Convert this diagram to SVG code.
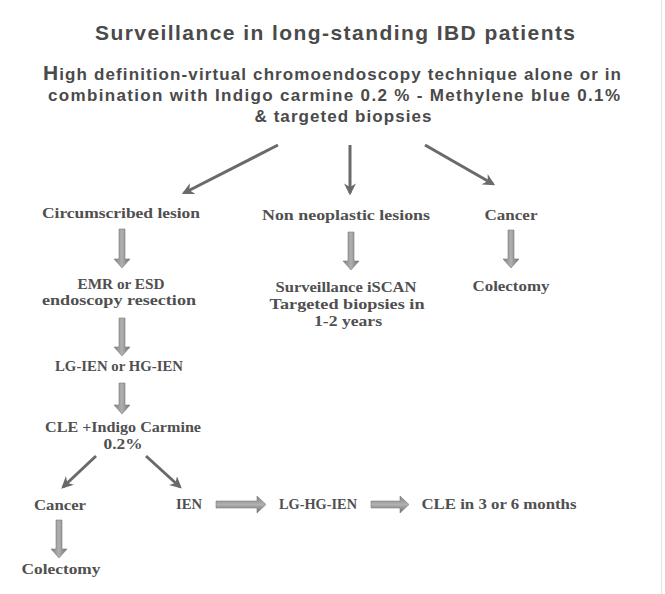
<svg xmlns="http://www.w3.org/2000/svg" width="665" height="594" viewBox="0 0 665 594">
<defs>
<style>
.t{font-family:"Liberation Sans",Arial,sans-serif;font-weight:bold;fill:#4a4a4a;text-anchor:middle}
.n{font-family:"Liberation Serif","Times New Roman",serif;font-weight:bold;font-size:15.5px;fill:#505050;text-anchor:middle}
.thin{stroke:#6a6a6a;stroke-width:3;fill:none;marker-end:url(#ah)}
.blk{fill:url(#gv);stroke:#7e7e7e;stroke-width:0.6}
.blkh{fill:url(#gh);stroke:#7e7e7e;stroke-width:0.6}
</style>
<marker id="ah" viewBox="0 0 10 10" refX="8" refY="5" markerWidth="4" markerHeight="4" orient="auto" markerUnits="strokeWidth">
<path d="M0,0 L10,5 L0,10 L3,5 Z" fill="#6a6a6a"/>
</marker>
<linearGradient id="gv" x1="0" y1="0" x2="1" y2="0">
<stop offset="0" stop-color="#808080"/><stop offset="0.5" stop-color="#b0b0b0"/><stop offset="1" stop-color="#707070"/>
</linearGradient>
<linearGradient id="gh" x1="0" y1="0" x2="0" y2="1">
<stop offset="0" stop-color="#808080"/><stop offset="0.5" stop-color="#b0b0b0"/><stop offset="1" stop-color="#707070"/>
</linearGradient>
</defs>
<rect width="665" height="594" fill="#ffffff"/>
<line x1="661.5" y1="0" x2="661.5" y2="594" stroke="#e2e2e2" stroke-width="1"/>

<g id="title"><text class="t" x="335" y="40" font-size="21" textLength="480" lengthAdjust="spacing">Surveillance in long-standing IBD patients</text></g>
<g id="technique">
<text class="t" x="332" y="80" font-size="17" textLength="578" lengthAdjust="spacing"><tspan font-size="21">H</tspan>igh definition-virtual chromoendoscopy technique alone or in</text>
<text class="t" x="334" y="101" font-size="17" textLength="572" lengthAdjust="spacing">combination with Indigo carmine 0.2 % - Methylene blue 0.1%</text>
<text class="t" x="343" y="122" font-size="17" textLength="177" lengthAdjust="spacing">&amp; targeted biopsies</text>
</g>

<g id="connectors">
<line class="thin" x1="278" y1="145" x2="184" y2="193"/>
<line class="thin" x1="350" y1="145" x2="350" y2="193"/>
<line class="thin" x1="425" y1="145" x2="493" y2="184"/>
<line class="thin" x1="96" y1="456" x2="63" y2="487"/>
<line class="thin" x1="146" y1="456" x2="180" y2="487"/>
<polygon class="blk" points="119,229 125,229 125,259 130,259 122,268 114,259 119,259"/>
<polygon class="blk" points="348,232 354,232 354,261 359,261 351,270 343,261 348,261"/>
<polygon class="blk" points="508,230 514,230 514,259 519,259 511,268 503,259 508,259"/>
<polygon class="blk" points="119,318 125,318 125,347 130,347 122,356 114,347 119,347"/>
<polygon class="blk" points="119,383 125,383 125,405 130,405 122,414 114,405 119,405"/>
<polygon class="blk" points="56,520 62,520 62,549 67,549 59,558 51,549 56,549"/>
<polygon class="blkh" points="216,501 257,501 257,496 266,504.5 257,513 257,508 216,508"/>
<polygon class="blkh" points="371,501 400,501 400,496 409,504.5 400,513 400,508 371,508"/>
</g>

<g id="circumscribed"><text class="n" x="121" y="218" textLength="158" lengthAdjust="spacingAndGlyphs">Circumscribed lesion</text></g>
<g id="nonneoplastic"><text class="n" x="346" y="220" textLength="168" lengthAdjust="spacingAndGlyphs">Non neoplastic lesions</text></g>
<g id="cancer1"><text class="n" x="511" y="220" textLength="53" lengthAdjust="spacingAndGlyphs">Cancer</text></g>
<g id="emr"><text class="n" x="121" y="289" font-size="14" textLength="87" lengthAdjust="spacingAndGlyphs">EMR or ESD</text><text class="n" x="119" y="304.5" font-size="14" textLength="154" lengthAdjust="spacingAndGlyphs">endoscopy resection</text></g>
<g id="surveillance"><text class="n" x="346" y="292" font-size="15" textLength="141" lengthAdjust="spacingAndGlyphs">Surveillance iSCAN</text><text class="n" x="347" y="309" font-size="15" textLength="155" lengthAdjust="spacingAndGlyphs">Targeted biopsies  in</text><text class="n" x="348" y="326" font-size="15" textLength="68" lengthAdjust="spacingAndGlyphs">1-2 years</text></g>
<g id="colectomy1"><text class="n" x="511" y="291" textLength="77" lengthAdjust="spacingAndGlyphs">Colectomy</text></g>
<g id="lgien"><text class="n" x="119" y="371" textLength="128" lengthAdjust="spacingAndGlyphs">LG-IEN or HG-IEN</text></g>
<g id="cle"><text class="n" x="123" y="432" font-size="15" textLength="156" lengthAdjust="spacingAndGlyphs">CLE +Indigo Carmine</text><text class="n" x="123" y="449" font-size="15" textLength="39" lengthAdjust="spacingAndGlyphs">0.2%</text></g>
<g id="cancer2"><text class="n" x="60" y="510" textLength="52" lengthAdjust="spacingAndGlyphs">Cancer</text></g>
<g id="ien"><text class="n" x="189" y="509" textLength="26" lengthAdjust="spacingAndGlyphs">IEN</text></g>
<g id="lghgien"><text class="n" x="318" y="509" textLength="78" lengthAdjust="spacingAndGlyphs">LG-HG-IEN</text></g>
<g id="cle36"><text class="n" x="499" y="509" textLength="155" lengthAdjust="spacingAndGlyphs">CLE in 3 or 6 months</text></g>
<g id="colectomy2"><text class="n" x="61" y="574" textLength="79" lengthAdjust="spacingAndGlyphs">Colectomy</text></g>
</svg>
